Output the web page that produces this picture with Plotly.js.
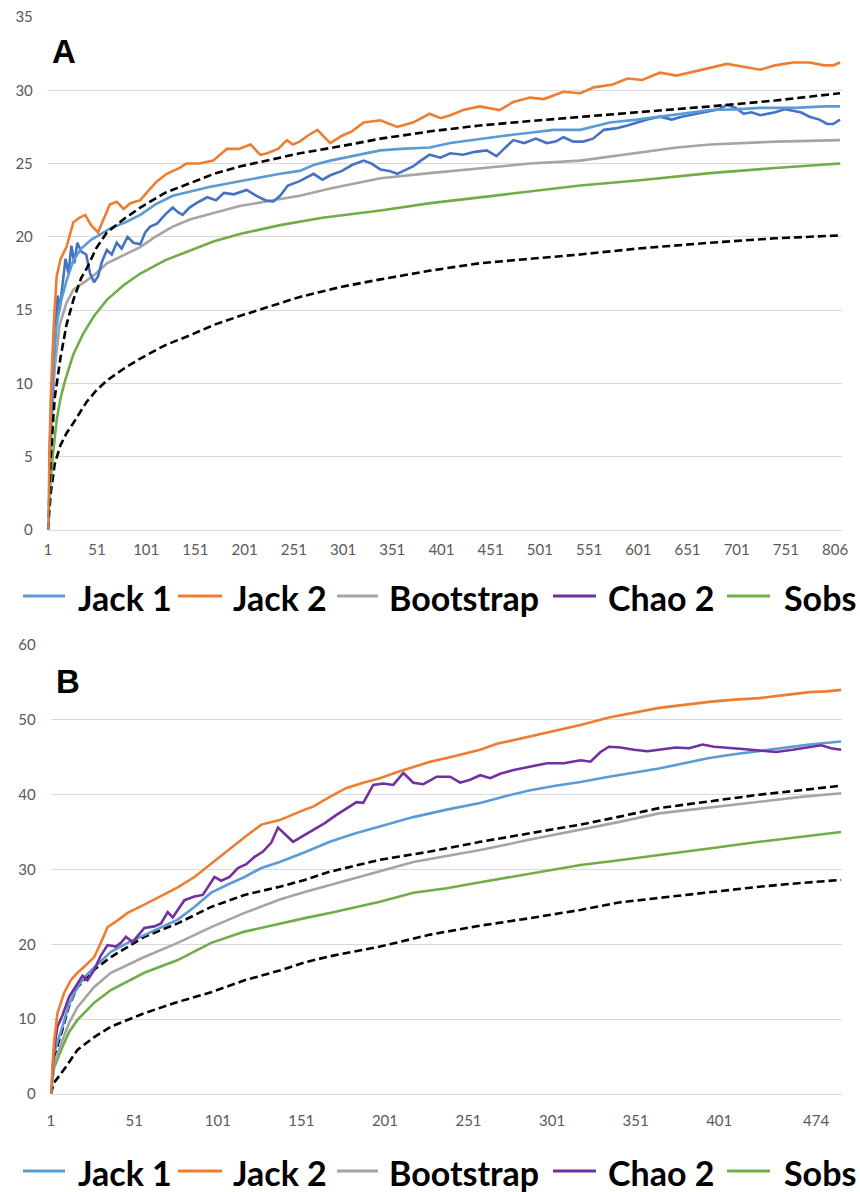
<!DOCTYPE html>
<html>
<head>
<meta charset="utf-8">
<script src="https://cdn.plot.ly/plotly-3.0.1.min.js"></script>
<style>html,body{margin:0;padding:0;background:#fff;}#chart{width:860px;height:1192px;}</style>
</head>
<body>
<div id="chart"></div>
<script>
// ---------- Panel A (samples 1..806) : [sample, value] ----------
var jack1A = [[1,0],[3,6],[6,11],[10,14],[14,15.5],[20,17],[27,18.4],[35,19.2],[45,19.8],[55,20.2],[65,20.6],[80,21.0],[95,21.5],[110,22.2],[128,22.8],[146,23.1],[165,23.4],[196,23.8],[220,24.1],[237,24.3],[257,24.5],[271,24.9],[288,25.2],[310,25.5],[339,25.9],[360,26.0],[389,26.1],[410,26.4],[440,26.7],[465,26.9],[491,27.1],[515,27.3],[542,27.3],[572,27.8],[600,28.0],[623,28.2],[650,28.4],[674,28.65],[700,28.7],[725,28.8],[760,28.8],[790,28.9],[806,28.9]];
var jack2A = [[1,0],[4,9],[7,14],[10,17.3],[14,18.5],[20,19.3],[27,21.0],[33,21.3],[39,21.5],[45,20.8],[52,20.3],[58,21.2],[64,22.2],[71,22.4],[78,21.9],[85,22.3],[95,22.5],[104,23.2],[112,23.8],[122,24.3],[135,24.7],[142,25.0],[155,25.0],[169,25.2],[183,26.0],[195,26.0],[207,26.3],[217,25.6],[224,25.7],[235,26.0],[244,26.6],[250,26.3],[257,26.5],[265,26.9],[275,27.3],[282,26.8],[288,26.4],[300,26.9],[310,27.2],[322,27.8],[339,27.95],[356,27.5],[372,27.8],[389,28.4],[400,28.1],[410,28.3],[423,28.65],[440,28.9],[460,28.65],[474,29.2],[491,29.5],[505,29.4],[525,29.9],[542,29.8],[556,30.2],[575,30.4],[590,30.8],[605,30.7],[623,31.2],[640,31.0],[660,31.3],[674,31.5],[691,31.8],[708,31.6],[725,31.4],[740,31.7],[758,31.9],[775,31.9],[790,31.7],[799,31.7],[806,31.9]];
var bootA = [[1,0],[4,6],[8,11],[13,14],[20,15.5],[27,16.4],[40,17.0],[50,17.5],[61,18.2],[80,18.8],[95,19.3],[110,20.0],[128,20.7],[146,21.2],[163,21.5],[196,22.1],[230,22.5],[257,22.8],[288,23.3],[339,24.0],[389,24.35],[440,24.7],[491,25.0],[542,25.2],[606,25.8],[640,26.1],[674,26.3],[741,26.5],[806,26.6]];
var chao2A = [[1,0],[3,5],[6,10.5],[9,13.5],[11,16],[13,15],[16,17],[19,18.5],[22,17.5],[25,19.4],[28,18.2],[31,19.6],[35,19.0],[40,18.8],[44,17.5],[48,16.9],[52,17.3],[56,18.3],[61,19.1],[66,18.8],[71,19.6],[76,19.2],[82,20.0],[88,19.6],[95,19.5],[100,20.3],[105,20.7],[112,20.9],[120,21.5],[128,22.0],[133,21.7],[138,21.5],[145,22.0],[152,22.3],[163,22.7],[172,22.5],[180,23.0],[190,22.9],[203,23.2],[213,22.8],[222,22.5],[230,22.4],[237,22.8],[245,23.5],[257,23.8],[265,24.1],[271,24.3],[280,23.9],[288,24.2],[300,24.5],[310,24.9],[322,25.2],[330,25.0],[339,24.6],[348,24.5],[356,24.3],[365,24.6],[372,24.8],[380,25.2],[389,25.6],[400,25.4],[410,25.7],[423,25.6],[435,25.8],[447,25.9],[457,25.5],[466,26.1],[474,26.6],[485,26.4],[497,26.7],[508,26.4],[517,26.5],[525,26.8],[535,26.5],[545,26.5],[555,26.7],[566,27.3],[578,27.4],[590,27.6],[600,27.8],[610,28.0],[623,28.2],[635,28.0],[645,28.2],[660,28.4],[674,28.6],[683,28.7],[691,29.0],[700,28.8],[708,28.4],[716,28.5],[725,28.3],[740,28.5],[750,28.7],[758,28.6],[766,28.5],[775,28.2],[785,28.0],[793,27.7],[799,27.7],[806,28.0]];
var sobsA = [[1,0],[3,2.5],[6,5],[10,7.5],[14,9],[19,10.3],[27,12],[37,13.4],[48,14.6],[61,15.7],[78,16.7],[95,17.5],[120,18.4],[146,19.1],[170,19.7],[196,20.2],[237,20.8],[280,21.3],[339,21.8],[390,22.3],[440,22.7],[490,23.1],[542,23.5],[600,23.85],[674,24.35],[740,24.7],[806,25.0]];
var upperA = [[1,0],[4,5],[8,9],[14,11.8],[20,14],[27,15.7],[35,17.2],[41,17.9],[50,19.2],[61,20.3],[78,21.2],[95,22.0],[120,23.0],[146,23.7],[170,24.3],[196,24.8],[237,25.4],[257,25.7],[300,26.2],[339,26.7],[390,27.2],[440,27.6],[491,27.9],[542,28.2],[600,28.5],[674,28.9],[740,29.3],[806,29.8]];
var lowerA = [[1,0],[4,2.5],[8,4.5],[14,5.8],[20,6.6],[27,7.3],[40,8.7],[50,9.5],[61,10.2],[78,11.0],[95,11.7],[120,12.6],[146,13.3],[170,14.0],[196,14.6],[237,15.5],[257,15.9],[300,16.6],[339,17.1],[390,17.7],[440,18.2],[491,18.5],[542,18.8],[600,19.2],[674,19.6],[740,19.9],[806,20.1]];

// ---------- Panel B (samples 1..474) ----------
var jack1B = [[1,0],[3,5.5],[8,9.0],[12,12],[17,14.3],[22,15.8],[27,16.9],[37,19.0],[47,20.2],[57,21.2],[67,22.3],[77,23.3],[87,25.0],[97,26.9],[107,28.0],[117,29.0],[127,30.2],[138,31.0],[153,32.3],[168,33.7],[183,34.8],[198,35.7],[218,37.0],[238,38.0],[258,38.9],[273,39.8],[288,40.6],[303,41.2],[318,41.7],[335,42.4],[350,42.9],[365,43.5],[380,44.2],[395,44.9],[410,45.4],[425,45.8],[440,46.3],[455,46.7],[474,47.1]];
var jack2B = [[1,0],[3,7],[5,10.8],[9,13.5],[13,15.2],[17,16.2],[22,17.2],[27,18.3],[31,20.2],[35,22.3],[41,23.2],[47,24.2],[57,25.3],[67,26.4],[77,27.6],[87,29.0],[97,30.8],[107,32.6],[117,34.3],[127,36.0],[138,36.6],[153,38.0],[158,38.4],[168,39.7],[178,40.9],[188,41.6],[198,42.2],[208,43.0],[218,43.7],[228,44.4],[238,44.9],[248,45.4],[258,46.0],[268,46.8],[278,47.3],[288,47.9],[298,48.4],[306,48.7],[318,49.3],[335,50.3],[350,51.0],[365,51.6],[380,52.0],[395,52.4],[410,52.7],[425,52.9],[440,53.3],[455,53.7],[465,53.8],[474,54.0]];
var bootB = [[1,0],[3,4],[8,7.2],[12,9.5],[17,11.6],[27,14.3],[37,16.2],[47,17.3],[57,18.3],[77,20.2],[97,22.3],[117,24.2],[138,26.0],[153,27.0],[168,27.9],[198,29.7],[218,31.0],[238,31.8],[258,32.6],[288,34.0],[318,35.3],[340,36.3],[365,37.5],[395,38.3],[425,39.0],[450,39.7],[474,40.2]];
var chao2B = [[1,0],[3,6],[5,9],[8,10.5],[12,13],[17,14.8],[20,15.8],[23,15.2],[27,16.6],[31,18.5],[35,19.9],[40,19.7],[43,20.2],[46,21.0],[50,20.3],[57,22.2],[63,22.4],[67,22.8],[71,24.3],[74,23.6],[81,25.9],[87,26.4],[92,26.6],[99,29.0],[103,28.5],[108,29.0],[113,30.2],[118,30.7],[123,31.7],[128,32.4],[133,33.6],[137,35.6],[141,34.8],[146,33.7],[152,34.5],[158,35.3],[165,36.2],[172,37.3],[178,38.2],[184,39.0],[188,38.9],[194,41.3],[200,41.5],[206,41.3],[212,42.9],[218,41.6],[224,41.4],[232,42.4],[240,42.4],[246,41.6],[252,42.0],[258,42.6],[264,42.2],[270,42.8],[278,43.3],[288,43.8],[298,44.2],[308,44.2],[318,44.6],[324,44.4],[330,45.7],[335,46.4],[342,46.3],[350,46.0],[358,45.8],[365,46.0],[375,46.3],[383,46.2],[391,46.7],[398,46.4],[405,46.3],[415,46.1],[425,45.9],[435,45.7],[445,46.0],[455,46.3],[462,46.6],[468,46.2],[474,46.0]];
var sobsB = [[1,0],[3,3.5],[8,6.3],[12,8.3],[17,9.9],[27,12.2],[37,13.9],[47,15.1],[57,16.2],[77,17.9],[97,20.2],[117,21.7],[138,22.8],[153,23.5],[168,24.2],[198,25.7],[218,26.9],[238,27.5],[258,28.3],[288,29.5],[318,30.6],[340,31.2],[365,31.9],[395,32.8],[425,33.7],[450,34.4],[474,35.0]];
var upperB = [[1,0],[3,5],[8,8.6],[12,11.8],[17,14.3],[27,16.6],[37,18.3],[47,19.7],[57,21.0],[77,22.8],[97,25.0],[117,26.6],[138,27.7],[153,28.6],[168,29.7],[198,31.3],[228,32.4],[258,33.7],[288,34.9],[318,36.0],[340,37.0],[365,38.2],[395,39.1],[425,40.0],[450,40.6],[474,41.2]];
var lowerB = [[1,0],[3,1.5],[10,3.6],[17,5.9],[27,7.6],[37,9.0],[57,10.8],[77,12.3],[97,13.6],[117,15.2],[138,16.5],[153,17.6],[168,18.4],[198,19.7],[228,21.3],[258,22.5],[288,23.5],[318,24.6],[341,25.6],[365,26.2],[389,26.9],[425,27.7],[450,28.2],[474,28.6]];

// ---------- Ticks & labels ----------
var xTickValsA = [1,51,101,151,201,251,301,351,401,451,501,551,601,651,701,751,801];
var xTickTextA = ['1','51','101','151','201','251','301','351','401','451','501','551','601','651','701','751','806'];
var xTickValsB = [1,51,101,151,201,251,301,351,401,459];
var xTickTextB = ['1','51','101','151','201','251','301','351','401','474'];
var yTickValsA = [0,5,10,15,20,25,30,35];
var yTickValsB = [0,10,20,30,40,50,60];
var legendNames = ['Jack 1','Jack 2','Bootstrap','Chao 2','Sobs'];
var legendColors = ['#5B9BD5','#ED7D31','#A5A5A5','#7030A0','#70AD47'];

function xs(a){return a.map(function(p){return p[0];});}
function ys(a){return a.map(function(p){return p[1];});}

var W = 2.6;
function line(d, color, xa, ya, dash){
  return {x: xs(d), y: ys(d), type:'scatter', mode:'lines', xaxis:xa, yaxis:ya,
    line:{color:color, width:W, dash: dash || 'solid', shape:'linear'}, showlegend:false, hoverinfo:'skip'};
}
var traces = [
  line(lowerA,'#000','x','y','8px,4px'),
  line(sobsA,'#70AD47','x','y'),
  line(bootA,'#A5A5A5','x','y'),
  line(chao2A,'#4472C4','x','y'),
  line(jack1A,'#5B9BD5','x','y'),
  line(upperA,'#000','x','y','8px,4px'),
  line(jack2A,'#ED7D31','x','y'),
  line(lowerB,'#000','x2','y2','8px,4px'),
  line(sobsB,'#70AD47','x2','y2'),
  line(upperB,'#000','x2','y2','8px,4px'),
  line(bootB,'#A5A5A5','x2','y2'),
  line(jack1B,'#5B9BD5','x2','y2'),
  line(chao2B,'#7030A0','x2','y2'),
  line(jack2B,'#ED7D31','x2','y2')
];

var H = 1192, L = 47, PW = 795;
function px2x(p){return (p - L)/PW;}
function py2y(p){return 1 - p/H;}

// legend layout (pixel positions of each entry: sample line start/end, text left)
var legLineStart = [23,178,337,553,727];
var legLineEnd = [65,222,378,596,770];
var legTextLeft = [76,231,387,606,782];
var legendRowsY = [596,1171];

var shapes = [], annotations = [];
legendRowsY.forEach(function(ry){
  legendNames.forEach(function(n,i){
    shapes.push({type:'line', xref:'paper', yref:'paper', x0:px2x(legLineStart[i]), x1:px2x(legLineEnd[i]),
      y0:py2y(ry), y1:py2y(ry), line:{color:legendColors[i], width:3}});
    annotations.push({text:n, xref:'paper', yref:'paper', x:px2x(legTextLeft[i]), y:py2y(ry+1),
      xanchor:'left', yanchor:'middle', showarrow:false,
      font:{family:'Lato, "Open Sans", sans-serif', size:34, color:'#000', weight:700}});
  });
});
annotations.push({text:'<b>A</b>', xref:'paper', yref:'paper', x:px2x(50), y:py2y(52), xanchor:'left', yanchor:'middle',
  showarrow:false, font:{family:'"Liberation Sans", Arial, sans-serif', size:33, color:'#000'}});
annotations.push({text:'<b>B</b>', xref:'paper', yref:'paper', x:px2x(54), y:py2y(681), xanchor:'left', yanchor:'middle',
  showarrow:false, font:{family:'"Liberation Sans", Arial, sans-serif', size:33, color:'#000'}});

var tickFont = {family:'Lato, "Open Sans", sans-serif', size:15, color:'#595959'};
var layout = {
  width:860, height:H, paper_bgcolor:'#fff', plot_bgcolor:'#fff',
  margin:{l:L, r:18, t:0, b:0, autoexpand:false},
  showlegend:false,
  xaxis:{domain:[0.001,1], range:[1,808], tickvals:xTickValsA, ticktext:xTickTextA, showgrid:false,
    zeroline:false, showline:true, linecolor:'#D9D9D9', linewidth:1, ticks:'', tickfont:tickFont,
    ticklabelstandoff:6, anchor:'y', fixedrange:true, automargin:false},
  yaxis:{domain:[py2y(530), py2y(17)], range:[0,35], tickvals:yTickValsA, showgrid:true, gridcolor:'#D9D9D9',
    gridwidth:1, zeroline:false, ticks:'', tickfont:tickFont, ticklabelstandoff:14, anchor:'x', fixedrange:true, automargin:false},
  xaxis2:{domain:[0.0047,1], range:[1,474.5], tickvals:xTickValsB, ticktext:xTickTextB, showgrid:false,
    zeroline:false, showline:true, linecolor:'#D9D9D9', linewidth:1, ticks:'', tickfont:tickFont,
    ticklabelstandoff:13, anchor:'y2', fixedrange:true, automargin:false},
  yaxis2:{domain:[py2y(1094), py2y(645)], range:[0,60], tickvals:yTickValsB, showgrid:true, gridcolor:'#D9D9D9',
    gridwidth:1, zeroline:false, ticks:'', tickfont:tickFont, ticklabelstandoff:14, anchor:'x2', fixedrange:true, automargin:false},
  shapes: shapes,
  annotations: annotations
};
Plotly.newPlot('chart', traces, layout, {displayModeBar:false, staticPlot:true});
</script>
</body>
</html>
